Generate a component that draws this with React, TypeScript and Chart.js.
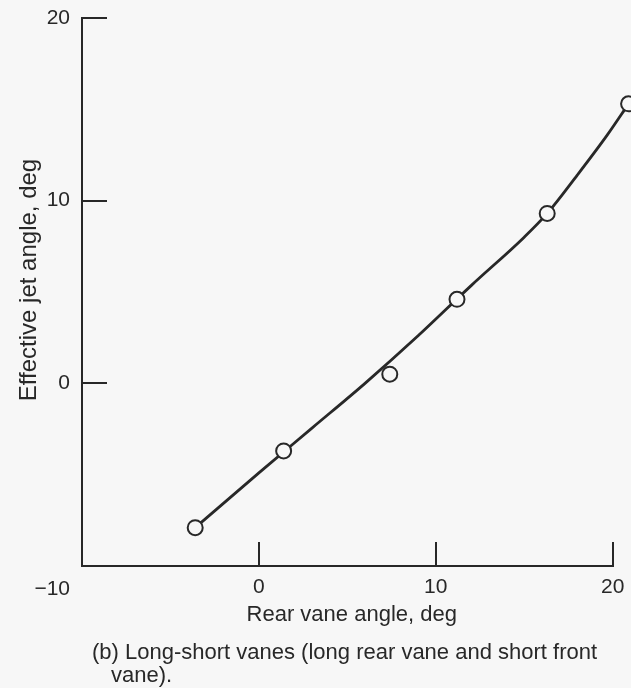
import React, { useEffect, useRef } from "react";
import { Chart, registerables } from "chart.js";

Chart.register(...registerables);

// Measured data points (open circles)
const pointX = [-3.6, 1.4, 7.4, 11.2, 16.3, 20.9];
const pointY = [-7.9, -3.7, 0.5, 4.6, 9.3, 15.3];

// Faired curve
const curveX = [-3.6, 0, 3, 6, 9, 12, 15, 16.3, 18, 19.7, 20.9];
const curveY = [-7.9, -4.9, -2.45, 0.0, 2.6, 5.35, 8.0, 9.3, 11.4, 13.6, 15.3];

// Axes
const xMin = -10;
const xMax = 20.5; // the drawing runs slightly past the last tick
const yMin = -10;
const yMax = 20;
const xTicks = [-10, 0, 10, 20];
const yTicks = [-10, 0, 10, 20];
const xTitle = "Rear vane angle, deg";
const yTitle = "Effective jet angle, deg";
const cornerLabel = "\u221210";
const captionLines = [
  "(b) Long-short vanes (long rear vane and short front",
  "vane).",
];

const INK = "#282828";
const BG = "#f7f7f7";
const FONT = "'Liberation Sans', Arial, Helvetica, sans-serif";

const decorPlugin = {
  id: "decor",
  beforeDraw(chart: any) {
    const ctx = chart.ctx;
    ctx.save();
    ctx.fillStyle = BG;
    ctx.fillRect(0, 0, chart.width, chart.height);
    ctx.restore();
  },
  afterDraw(chart: any) {
    const ctx = chart.ctx;
    const xs = chart.scales.x;
    const ys = chart.scales.y;
    const area = chart.chartArea;
    const lastX = xTicks[xTicks.length - 1];
    ctx.save();
    ctx.strokeStyle = INK;
    ctx.lineWidth = 2;
    // x axis line, ending at the last tick
    ctx.beginPath();
    ctx.moveTo(area.left - 1, area.bottom);
    ctx.lineTo(Math.round(xs.getPixelForValue(lastX)) + 1, area.bottom);
    ctx.stroke();
    // inward tick marks
    yTicks
      .filter((v) => v > ys.min)
      .forEach((v) => {
        const py = Math.round(ys.getPixelForValue(v));
        ctx.beginPath();
        ctx.moveTo(area.left, py);
        ctx.lineTo(area.left + 25, py);
        ctx.stroke();
      });
    xTicks
      .filter((v) => v > xs.min)
      .forEach((v) => {
        const px = Math.round(xs.getPixelForValue(v));
        ctx.beginPath();
        ctx.moveTo(px, area.bottom);
        ctx.lineTo(px, area.bottom - 24);
        ctx.stroke();
      });
    ctx.fillStyle = INK;
    // shared corner label
    ctx.font = `21px ${FONT}`;
    ctx.textAlign = "right";
    ctx.textBaseline = "alphabetic";
    ctx.fillText(cornerLabel, area.left - 12, area.bottom + 29);
    // y axis title
    ctx.save();
    ctx.translate(36, 280);
    ctx.rotate(-Math.PI / 2);
    ctx.font = `24px ${FONT}`;
    ctx.textAlign = "center";
    ctx.fillText(yTitle, 0, 0);
    ctx.restore();
    // caption
    ctx.font = `22px ${FONT}`;
    ctx.textAlign = "left";
    ctx.fillText(captionLines[0], 92, 659);
    ctx.fillText(captionLines[1], 111, 682);
    ctx.restore();
  },
};

export default function App() {
  const canvasRef = useRef<HTMLCanvasElement | null>(null);

  useEffect(() => {
    if (!canvasRef.current) return;
    const points = pointX.map((x, i) => ({ x, y: pointY[i] }));
    const curve = curveX.map((x, i) => ({ x, y: curveY[i] }));
    const chart = new Chart(canvasRef.current, {
      type: "scatter",
      data: {
        datasets: [
          {
            label: "Measured",
            data: points,
            pointRadius: 7.5,
            pointHoverRadius: 7.5,
            pointBorderWidth: 2,
            pointBorderColor: INK,
            pointBackgroundColor: BG,
            showLine: false,
            clip: false as any,
          },
          {
            label: "Curve",
            type: "line",
            data: curve,
            borderColor: INK,
            borderWidth: 2.8,
            pointRadius: 0,
            fill: false,
            tension: 0.4,
            cubicInterpolationMode: "monotone",
            clip: false as any,
          } as any,
        ],
      },
      options: {
        animation: false,
        responsive: false,
        events: [],
        layout: { padding: { top: 18, right: 0, left: 0, bottom: 0 } },
        plugins: {
          legend: { display: false },
          tooltip: { enabled: false },
        },
        scales: {
          x: {
            type: "linear",
            min: xMin,
            max: xMax,
            afterBuildTicks: (scale: any) => {
              scale.ticks = xTicks.map((v) => ({ value: v }));
            },
            afterFit: (scale: any) => {
              scale.height = 122;
              scale.paddingLeft = 0;
              scale.paddingRight = 0;
            },
            grid: { display: false, drawTicks: false },
            border: { display: false },
            ticks: {
              color: INK,
              font: { family: FONT, size: 21 },
              padding: 9,
              maxRotation: 0,
              callback: (v: any) => (v === -10 ? "" : String(v)),
            },
            title: {
              display: true,
              text: xTitle,
              color: INK,
              font: { family: FONT, size: 22 },
              padding: { top: 0, bottom: 60 },
            },
          },
          y: {
            type: "linear",
            min: yMin,
            max: yMax,
            afterBuildTicks: (scale: any) => {
              scale.ticks = yTicks.map((v) => ({ value: v }));
            },
            afterFit: (scale: any) => {
              scale.width = 82;
            },
            grid: { display: false, drawTicks: false },
            border: { display: true, color: INK, width: 2 },
            ticks: {
              color: INK,
              font: { family: FONT, size: 21, lineHeight: 0.5 },
              padding: 12,
              callback: (v: any) => (v === -10 ? "" : String(v)),
            },
            title: { display: false },
          },
        },
      },
      plugins: [decorPlugin],
    } as any);
    return () => chart.destroy();
  }, []);

  return (
    <div
      style={{
        position: "absolute",
        left: 0,
        top: 0,
        width: 631,
        height: 688,
        background: BG,
      }}
    >
      <canvas
        ref={canvasRef}
        width={631}
        height={688}
        style={{ display: "block", width: 631, height: 688 }}
      />
    </div>
  );
}
